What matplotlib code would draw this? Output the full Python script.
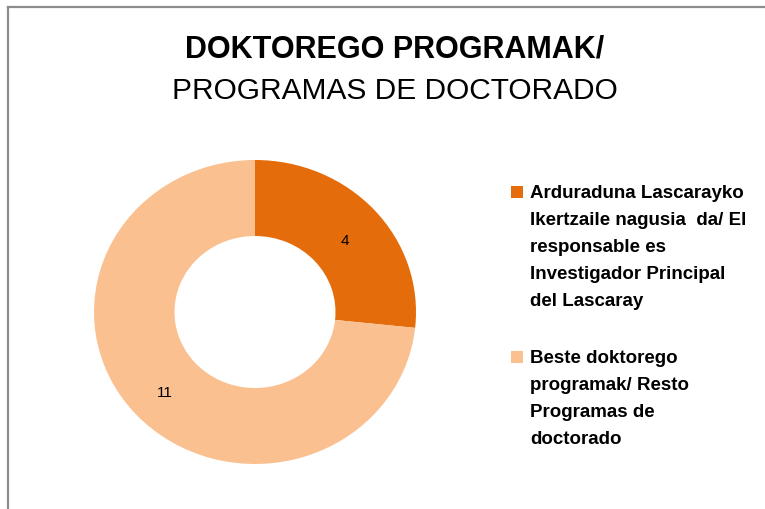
import matplotlib.pyplot as plt
from matplotlib.lines import Line2D
from matplotlib.patches import Rectangle

# data
categories = [
    "Arduraduna Lascarayko\nIkertzaile nagusia  da/ El\nresponsable es\nInvestigador Principal\ndel Lascaray",
    "Beste doktorego\nprogramak/ Resto\nProgramas de\ndoctorado",
]
values = [4, 11]
colors = ["#E46C0A", "#FAC090"]

FONT = ["Liberation Sans", "DejaVu Sans"]

W, H = 765, 509
fig = plt.figure(figsize=(W / 100, H / 100), dpi=100)

# chart frame (left and top edges visible)
fig.add_artist(Line2D([7.5 / W, 7.5 / W], [0, 1 - 6.5 / H], color="#8c8c8c", lw=1.6))
fig.add_artist(Line2D([7.5 / W, 1], [1 - 6.5 / H, 1 - 6.5 / H], color="#8c8c8c", lw=1.6))

# title
fig.text(395 / W, 1 - 49 / H, "DOKTOREGO PROGRAMAK/", ha="center", va="center",
         fontsize=22, fontweight="bold", family=FONT)
fig.text(395 / W, 1 - 91 / H, "PROGRAMAS DE DOCTORADO", ha="center", va="center",
         fontsize=21.5, family=FONT)

# donut
cx, cy, rx, ry = 255, 312, 161, 152
ax = fig.add_axes([(cx - rx) / W, 1 - (cy + ry) / H, 2 * rx / W, 2 * ry / H])
wedges, _ = ax.pie(
    values,
    colors=colors,
    startangle=90,
    counterclock=False,
    radius=1,
    wedgeprops=dict(width=0.5, linewidth=0),
)
ax.set_aspect("auto")
ax.set_xlim(-1, 1)
ax.set_ylim(-1, 1)

# value labels
ax.text(0.56, 0.47, str(values[0]), ha="center", va="center", fontsize=11, family=FONT)
ax.text(-0.56, -0.53, str(values[1]), ha="center", va="center", fontsize=11, family=FONT)

# legend, with the marker beside the first line of each entry
tops = [185, 350]
for label, color, top in zip(categories, colors, tops):
    fig.add_artist(Rectangle((511 / W, 1 - (top + 13) / H), 12 / W, 12 / H,
                             transform=fig.transFigure, color=color, lw=0))
    fig.text(530 / W, 1 - top / H, label, ha="left", va="top", fontsize=13.5,
             fontweight="bold", family=FONT, linespacing=1.76)

fig.savefig("out.png", dpi=100)
